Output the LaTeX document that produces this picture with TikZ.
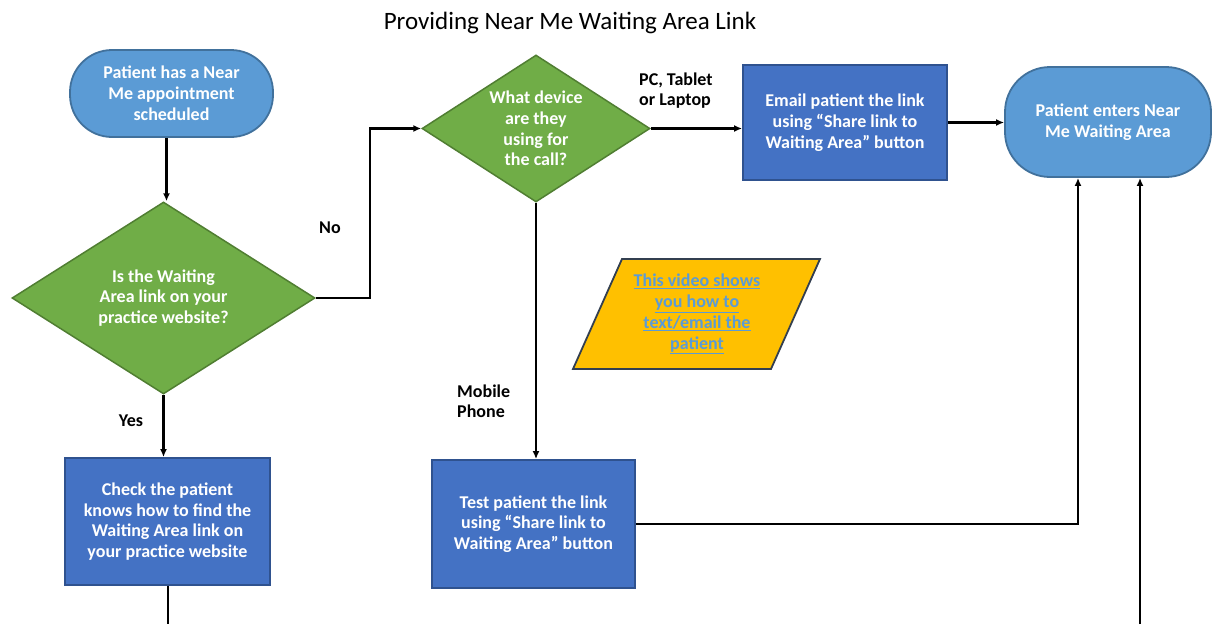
\documentclass[tikz,border=0pt]{standalone}
\usepackage{fontspec}
\setmainfont{Carlito}
\usetikzlibrary{arrows.meta,shapes.geometric}
\definecolor{termfill}{HTML}{5B9BD5}
\definecolor{termdraw}{HTML}{41719C}
\definecolor{diamfill}{HTML}{70AD47}
\definecolor{diamdraw}{HTML}{507E32}
\definecolor{boxfill}{HTML}{4472C4}
\definecolor{boxdraw}{HTML}{2F528F}
\definecolor{parafill}{HTML}{FFC000}
\definecolor{paradraw}{HTML}{333F50}
\definecolor{linktext}{HTML}{5B9BD5}
\begin{document}
\begin{tikzpicture}[x=1pt,y=-1pt,
  nodetext/.style={text=white,align=center,font=\bfseries\fontsize{18}{20.8}\selectfont,inner sep=0pt},
  term/.style={nodetext,draw=termdraw,fill=termfill,line width=1.8pt,rectangle},
  decision/.style={nodetext,draw=diamdraw,fill=diamfill,line width=1.5pt,diamond,aspect=1.55},
  procbox/.style={nodetext,draw=boxdraw,fill=boxfill,line width=1.8pt,rectangle},
  lbl/.style={text=black,align=left,font=\bfseries\fontsize{18}{20}\selectfont,inner sep=0pt},
  arr/.style={line width=2.2pt,-{Latex[length=8pt,width=7pt]}},
  conn/.style={line width=2.2pt}
]
\useasboundingbox (0,0) rectangle (1213,624);

\node[font=\fontsize{25}{28}\selectfont,inner sep=0pt] (title) at (570,23) {Providing Near Me Waiting Area Link};

\node[term,rounded corners=42pt,minimum width=203pt,minimum height=87pt] (start) at (171.5,93.5)
  {Patient has a Near\\Me appointment\\scheduled};
\node[decision,minimum width=303pt,minimum height=192pt] (d1) at (163.5,298)
  {Is the Waiting\\Area link on your\\practice website?};
\node[procbox,minimum width=205pt,minimum height=127pt] (check) at (167.5,521.5)
  {Check the patient\\knows how to find the\\Waiting Area link on\\your practice website};
\node[decision,minimum width=228pt,minimum height=147pt] (d2) at (536,128.5)
  {What device\\are they\\using for\\the call?};
\node[procbox,minimum width=204pt,minimum height=115pt] (email) at (845,122.5)
  {Email patient the link\\using “Share link to\\Waiting Area” button};
\node[term,rounded corners=45pt,minimum width=206pt,minimum height=110pt] (finish) at (1108,122)
  {Patient enters Near\\Me Waiting Area};
\node[procbox,minimum width=203pt,minimum height=128pt] (test) at (533.5,524)
  {Test patient the link\\using “Share link to\\Waiting Area” button};

% parallelogram note
\draw[fill=parafill,draw=paradraw,line width=1.8pt]
  (622,259) -- (820,259) -- (771,369) -- (573,369) -- cycle;
\node[text=linktext,align=center,font=\bfseries\fontsize{18}{20.8}\selectfont,inner sep=0pt] (video) at (697,314)
  {\underline{This video shows}\\\underline{you how to}\\\underline{text/email the}\\\underline{patient}};

% labels
\node[lbl] (lno) at (330,228) {No};
\node[lbl] (lyes) at (131,421) {Yes};
\node[lbl,anchor=west] (lpc) at (639,91) {PC, Tablet\\or Laptop};
\node[lbl,anchor=west] (lmob) at (457,401) {Mobile\\Phone};

% coordinates
\coordinate (sline) at (166.5,0);
\coordinate (nobend) at (370,297);
\coordinate (cbot) at (168,624);
\coordinate (jtest) at (1078,521);
\coordinate (ebot) at (1140,624);

% connectors
\draw[arr] (start.south -| sline) -- (d1.north -| sline);
\draw[arr] (d1.east) -- (d1.east -| nobend) |- (d2.west);
\draw[arr] (d1.south) -- (d1.south |- check.north);
\draw[conn] (check.south -| cbot) -- (cbot);
\draw[arr] (d2.east) -- (d2.east -| email.west);
\draw[arr] (d2.south) -- (d2.south |- test.north);
\draw[arr] (email.east) -- (email.east -| finish.west);
\draw[arr] (test.east) -- (test.east -| jtest) -- (jtest |- finish.south);
\draw[arr] (ebot) -- (ebot |- finish.south);
\end{tikzpicture}
\end{document}
